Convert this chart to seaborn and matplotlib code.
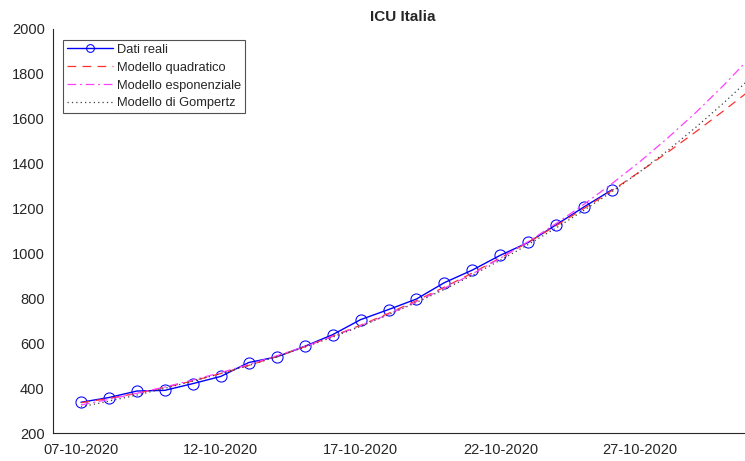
import pandas as pd
import matplotlib.pyplot as plt
import matplotlib.dates as mdates
import seaborn as sns

days_real = pd.date_range('2020-10-07', '2020-10-26', freq='D')
icu_real = [337, 358, 387, 390, 420, 452, 514, 539, 586, 638,
            705, 750, 797, 870, 926, 992, 1049, 1128, 1208, 1284]

days_model = pd.date_range('2020-10-07', '2020-10-31', freq='D')
quadratic = [335, 354, 377, 403, 432, 465, 501, 541, 584, 632,
             680, 733, 790, 850, 913, 980, 1050, 1124, 1201, 1281,
             1365, 1452, 1543, 1637, 1734]
exponential = [325, 350, 377, 405, 436, 469, 505, 544, 585, 630,
               678, 729, 785, 845, 909, 979, 1053, 1134, 1220, 1312,
               1410, 1516, 1629, 1751, 1882]
gompertz = [316, 342, 369, 399, 431, 465, 501, 540, 582, 627,
            675, 727, 782, 840, 903, 970, 1040, 1114, 1193, 1276,
            1365, 1460, 1563, 1672, 1788]

sns.set_style("white")
plt.rcParams['font.family'] = ['Liberation Sans', 'DejaVu Sans']

fig = plt.figure(figsize=(7.45, 4.61), dpi=100)
ax = fig.add_axes([53 / 745, 28 / 461, 699 / 745, 404 / 461])

df_real = pd.DataFrame({'data': days_real, 'icu': icu_real})
df_model = pd.DataFrame({'data': days_model, 'quad': quadratic,
                         'exp': exponential, 'gomp': gompertz})

sns.lineplot(data=df_real, x='data', y='icu', ax=ax, color='#0000ff',
             linewidth=1.0, marker='o', markersize=8, markerfacecolor='none',
             markeredgecolor='#0000ff', markeredgewidth=0.75, label='Dati reali')
sns.lineplot(data=df_model, x='data', y='quad', ax=ax, color='#ff3030',
             linewidth=0.9, linestyle=(0, (7, 5)), label='Modello quadratico')
sns.lineplot(data=df_model, x='data', y='exp', ax=ax, color='#ff40ff',
             linewidth=0.9, linestyle=(0, (7, 3, 1.5, 3)), label='Modello esponenziale')
sns.lineplot(data=df_model, x='data', y='gomp', ax=ax, color='#404040',
             linewidth=0.9, linestyle=(0, (1, 2.5)), label='Modello di Gompertz')

ax.set_xlim(pd.Timestamp('2020-10-06'), pd.Timestamp('2020-10-31'))
ax.set_ylim(200, 2000)
ax.set_yticks(range(200, 2001, 200))
ax.set_xticks(pd.to_datetime(['2020-10-07', '2020-10-12', '2020-10-17',
                              '2020-10-22', '2020-10-27']))
ax.xaxis.set_major_formatter(mdates.DateFormatter('%d-%m-%Y'))
ax.set_xlabel('')
ax.set_ylabel('')

for side in ['top', 'right']:
    ax.spines[side].set_visible(False)
for side in ['left', 'bottom']:
    ax.spines[side].set_color('#262626')
    ax.spines[side].set_linewidth(0.8)
ax.tick_params(direction='in', length=5, width=0.8, labelsize=10.5,
               colors='#262626')
ax.tick_params(axis='x', pad=7)
ax.tick_params(axis='y', pad=6)

ax.set_title('ICU Italia', fontweight='bold', fontsize=11, pad=6)

leg = ax.legend(loc='upper left', bbox_to_anchor=(10 / 699, 1 - 11 / 404),
                borderaxespad=0, fontsize=9.3,
                handlelength=3.6, frameon=True, fancybox=False, markerscale=0.7,
                borderpad=0.3, labelspacing=0.45, handletextpad=0.3)
leg.get_frame().set_edgecolor('#262626')
leg.get_frame().set_linewidth(0.8)

fig.savefig('out.png', dpi=100)
